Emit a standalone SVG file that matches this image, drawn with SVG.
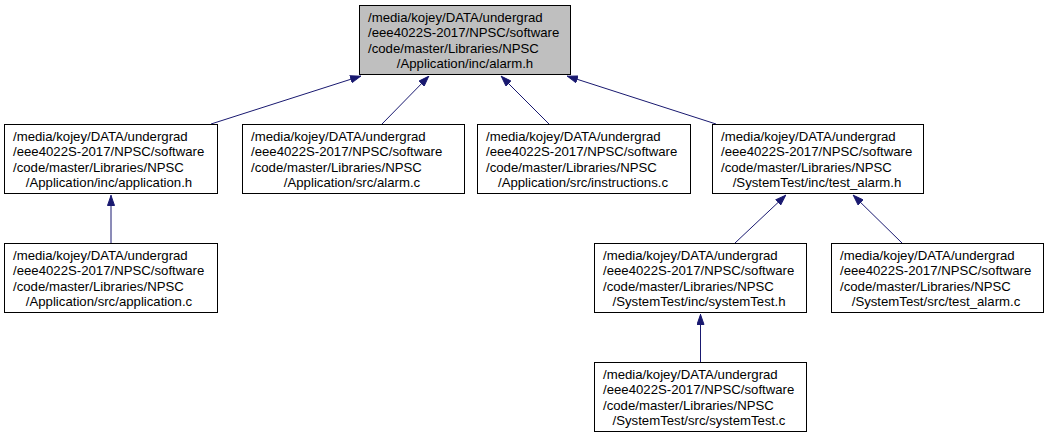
<svg xmlns="http://www.w3.org/2000/svg" width="1048" height="437" viewBox="0 0 1048 437">
<defs>
<style>
.box{fill:#ffffff;stroke:#000000;stroke-width:1}
.root{fill:#bfbfbf;stroke:#000000;stroke-width:1}
.t{font-family:"Liberation Sans",Arial,sans-serif;font-size:13.2px;fill:#000000}
.c{text-anchor:middle}
.e{fill:none;stroke:#191970;stroke-width:1;marker-end:url(#ah)}
</style>
<marker id="ah" markerUnits="userSpaceOnUse" viewBox="0 0 11 8" refX="11" refY="4" markerWidth="11" markerHeight="8" orient="auto">
<path d="M0.5,0.5 L10.5,4 L0.5,7.5 z" fill="#191970" stroke="#191970" stroke-width="1"/>
</marker>
</defs>
<rect width="1048" height="437" fill="#ffffff"/>
<g id="connectors">
<path class="e" d="M211,124 L361,76"/>
<path class="e" d="M382,124 L429,76"/>
<path class="e" d="M549,124 L501,76"/>
<path class="e" d="M716,124 L567,76"/>
<path class="e" d="M111,243 L111,195"/>
<path class="e" d="M735,243 L786,195"/>
<path class="e" d="M902,243 L853,195"/>
<path class="e" d="M700.5,362 L700.5,314"/>
</g>
<g id="node0">
<rect class="root" x="359.5" y="5.5" width="211" height="69"/>
<text class="t" x="368" y="22">/media/kojey/DATA/undergrad</text>
<text class="t" x="368" y="37.3">/eee4022S-2017/NPSC/software</text>
<text class="t" x="368" y="52.6">/code/master/Libraries/NPSC</text>
<text class="t c" x="465" y="68">/Application/inc/alarm.h</text>
</g>
<g id="node1">
<rect class="box" x="4.5" y="124.5" width="213" height="69"/>
<text class="t" x="13" y="141">/media/kojey/DATA/undergrad</text>
<text class="t" x="13" y="156.3">/eee4022S-2017/NPSC/software</text>
<text class="t" x="13" y="171.6">/code/master/Libraries/NPSC</text>
<text class="t c" x="109" y="187">/Application/inc/application.h</text>
</g>
<g id="node2">
<rect class="box" x="242.5" y="124.5" width="222" height="69"/>
<text class="t" x="251" y="141">/media/kojey/DATA/undergrad</text>
<text class="t" x="251" y="156.3">/eee4022S-2017/NPSC/software</text>
<text class="t" x="251" y="171.6">/code/master/Libraries/NPSC</text>
<text class="t c" x="352" y="187">/Application/src/alarm.c</text>
</g>
<g id="node3">
<rect class="box" x="477.5" y="124.5" width="213" height="69"/>
<text class="t" x="486" y="141">/media/kojey/DATA/undergrad</text>
<text class="t" x="486" y="156.3">/eee4022S-2017/NPSC/software</text>
<text class="t" x="486" y="171.6">/code/master/Libraries/NPSC</text>
<text class="t c" x="583" y="187">/Application/src/instructions.c</text>
</g>
<g id="node4">
<rect class="box" x="712.5" y="124.5" width="211" height="69"/>
<text class="t" x="721" y="141">/media/kojey/DATA/undergrad</text>
<text class="t" x="721" y="156.3">/eee4022S-2017/NPSC/software</text>
<text class="t" x="721" y="171.6">/code/master/Libraries/NPSC</text>
<text class="t c" x="817" y="187">/SystemTest/inc/test_alarm.h</text>
</g>
<g id="node5">
<rect class="box" x="4.5" y="243.5" width="213" height="69"/>
<text class="t" x="13" y="260">/media/kojey/DATA/undergrad</text>
<text class="t" x="13" y="275.3">/eee4022S-2017/NPSC/software</text>
<text class="t" x="13" y="290.6">/code/master/Libraries/NPSC</text>
<text class="t c" x="109" y="306">/Application/src/application.c</text>
</g>
<g id="node6">
<rect class="box" x="594.5" y="243.5" width="212" height="69"/>
<text class="t" x="603" y="260">/media/kojey/DATA/undergrad</text>
<text class="t" x="603" y="275.3">/eee4022S-2017/NPSC/software</text>
<text class="t" x="603" y="290.6">/code/master/Libraries/NPSC</text>
<text class="t c" x="699" y="306">/SystemTest/inc/systemTest.h</text>
</g>
<g id="node7">
<rect class="box" x="831.5" y="243.5" width="212" height="69"/>
<text class="t" x="840" y="260">/media/kojey/DATA/undergrad</text>
<text class="t" x="840" y="275.3">/eee4022S-2017/NPSC/software</text>
<text class="t" x="840" y="290.6">/code/master/Libraries/NPSC</text>
<text class="t c" x="936" y="306">/SystemTest/src/test_alarm.c</text>
</g>
<g id="node8">
<rect class="box" x="594.5" y="362.5" width="212" height="69"/>
<text class="t" x="603" y="379">/media/kojey/DATA/undergrad</text>
<text class="t" x="603" y="394.3">/eee4022S-2017/NPSC/software</text>
<text class="t" x="603" y="409.6">/code/master/Libraries/NPSC</text>
<text class="t c" x="699" y="425">/SystemTest/src/systemTest.c</text>
</g>
</svg>
